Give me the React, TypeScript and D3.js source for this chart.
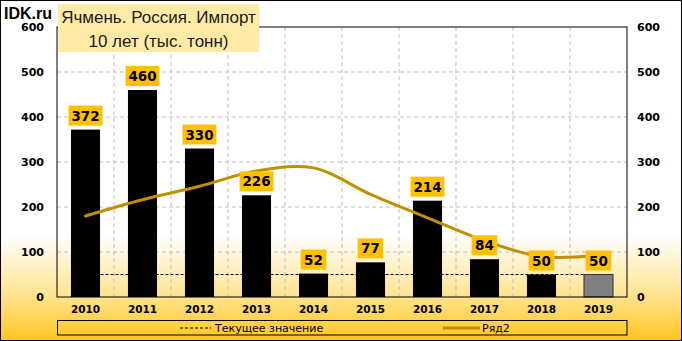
import React from "react";
import * as d3 from "d3";

const years = ["2010", "2011", "2012", "2013", "2014", "2015", "2016", "2017", "2018", "2019"];
const imports = [372, 460, 330, 226, 52, 77, 214, 84, 50, 50];
const trend = [180, 216, 246, 280, 287, 228, 176, 125, 90, 93];
const currentValue = 50;
const yTicks = [0, 100, 200, 300, 400, 500, 600];
const titleLines = ["Ячмень. Россия. Импорт", "10 лет (тыс. тонн)"];
const legendLabels = ["Текущее значение", "Ряд2"];

const W = 682, H = 341;
const L = 57, R = 627, T = 27, B = 297;

export default function App() {
  const x = d3.scaleBand<string>().domain(years).range([L, R]).paddingInner(0.49).paddingOuter(0.245);
  const y = d3.scaleLinear().domain([0, 600]).range([B, T]);
  const cx = (yr: string) => (x(yr) as number) + x.bandwidth() / 2;
  const step = x.step();
  const line = d3.line<number>().x((_, i) => cx(years[i])).y((d) => y(d)).curve(d3.curveCatmullRom.alpha(0.5));
  const labelFont = "DejaVu Sans, sans-serif";

  return (
    <svg width={W} height={H} style={{ position: "fixed", left: 0, top: 0 }} fontFamily={labelFont}>
      <defs>
        <linearGradient id="bg" x1="0" y1="0" x2="0" y2="1">
          <stop offset="0" stopColor="#ffffff" />
          <stop offset="0.69" stopColor="#ffffff" />
          <stop offset="0.86" stopColor="#ffe594" />
          <stop offset="1" stopColor="#ffc61e" />
        </linearGradient>
      </defs>
      <rect x={0.5} y={0.5} width={W - 1} height={H - 1} fill="url(#bg)" stroke="#000" strokeWidth={1} />

      {/* gridlines */}
      {yTicks.slice(1, -1).map((t) => (
        <line key={"h" + t} x1={L} x2={R} y1={y(t)} y2={y(t)} stroke="#bfbfbf" strokeDasharray="4,3" />
      ))}
      {years.slice(1).map((yr) => (
        <line key={"v" + yr} x1={(x(yr) as number) - (step - x.bandwidth()) / 2} x2={(x(yr) as number) - (step - x.bandwidth()) / 2} y1={T} y2={B} stroke="#bfbfbf" strokeDasharray="4,3" />
      ))}

      {/* current value dashed line (behind bars) */}
      <line x1={cx(years[0])} x2={cx(years[years.length - 1])} y1={y(currentValue)} y2={y(currentValue)} stroke="#000" strokeDasharray="3,2" strokeWidth={1} />

      {/* bars */}
      {imports.map((v, i) => (
        <rect key={"b" + i} x={x(years[i])} y={y(v)} width={x.bandwidth()} height={B - y(v)}
          fill={i === imports.length - 1 ? "#808080" : "#000"} stroke={i === imports.length - 1 ? "#333" : "none"} strokeWidth={1} />
      ))}

      {/* trend line */}
      <path d={line(trend) || ""} fill="none" stroke="#bf9000" strokeWidth={3} strokeLinecap="round" />

      {/* data labels */}
      {imports.map((v, i) => {
        const s = String(v);
        const w = s.length * 8.3 + 9;
        const bx = cx(years[i]);
        const by = y(v) - 4;
        return (
          <g key={"l" + i}>
            <rect x={bx - w / 2} y={by - 20} width={w} height={20} fill="#ffc000" />
            <text x={bx} y={by - 5} textAnchor="middle" fontWeight="bold" fontSize={13.5} fill="#000">{s}</text>
          </g>
        );
      })}

      {/* plot border */}
      <rect x={L} y={T} width={R - L} height={B - T} fill="none" stroke="#000" strokeWidth={1} />

      {/* axes labels */}
      {yTicks.map((t) => (
        <g key={"yt" + t}>
          <text x={44} y={y(t) + 4} textAnchor="end" fontWeight="bold" fontSize={11}>{t}</text>
          <text x={637} y={y(t) + 4} textAnchor="start" fontWeight="bold" fontSize={11}>{t}</text>
        </g>
      ))}
      {years.map((yr) => (
        <text key={"xt" + yr} x={cx(yr)} y={313} textAnchor="middle" fontWeight="bold" fontSize={10.5}>{yr}</text>
      ))}

      {/* title */}
      <rect x={58} y={4} width={201} height={48} fill="#ffeba6" />
      <text x={158.5} y={22.5} textAnchor="middle" fontSize={17} fontFamily="Liberation Sans, Arial, sans-serif" fill="#1a1a1a">{titleLines[0]}</text>
      <text x={158.5} y={46.5} textAnchor="middle" fontSize={17} fontFamily="Liberation Sans, Arial, sans-serif" fill="#1a1a1a">{titleLines[1]}</text>
      <text x={4} y={19} fontSize={16} fontWeight="bold" fontFamily="Liberation Sans, Arial, sans-serif" fill="#000">IDK.ru</text>

      {/* legend */}
      <rect x={57.5} y={320.5} width={569.5} height={14.5} fill="none" stroke="#000" strokeWidth={1} />
      <line x1={180} x2={211} y1={328} y2={328} stroke="#000" strokeDasharray="3,2" />
      <text x={215} y={332} fontSize={11} fill="#000">{legendLabels[0]}</text>
      <line x1={443} x2={480} y1={328} y2={328} stroke="#bf9000" strokeWidth={3} />
      <text x={482} y={332} fontSize={11} fill="#000">{legendLabels[1]}</text>
    </svg>
  );
}
